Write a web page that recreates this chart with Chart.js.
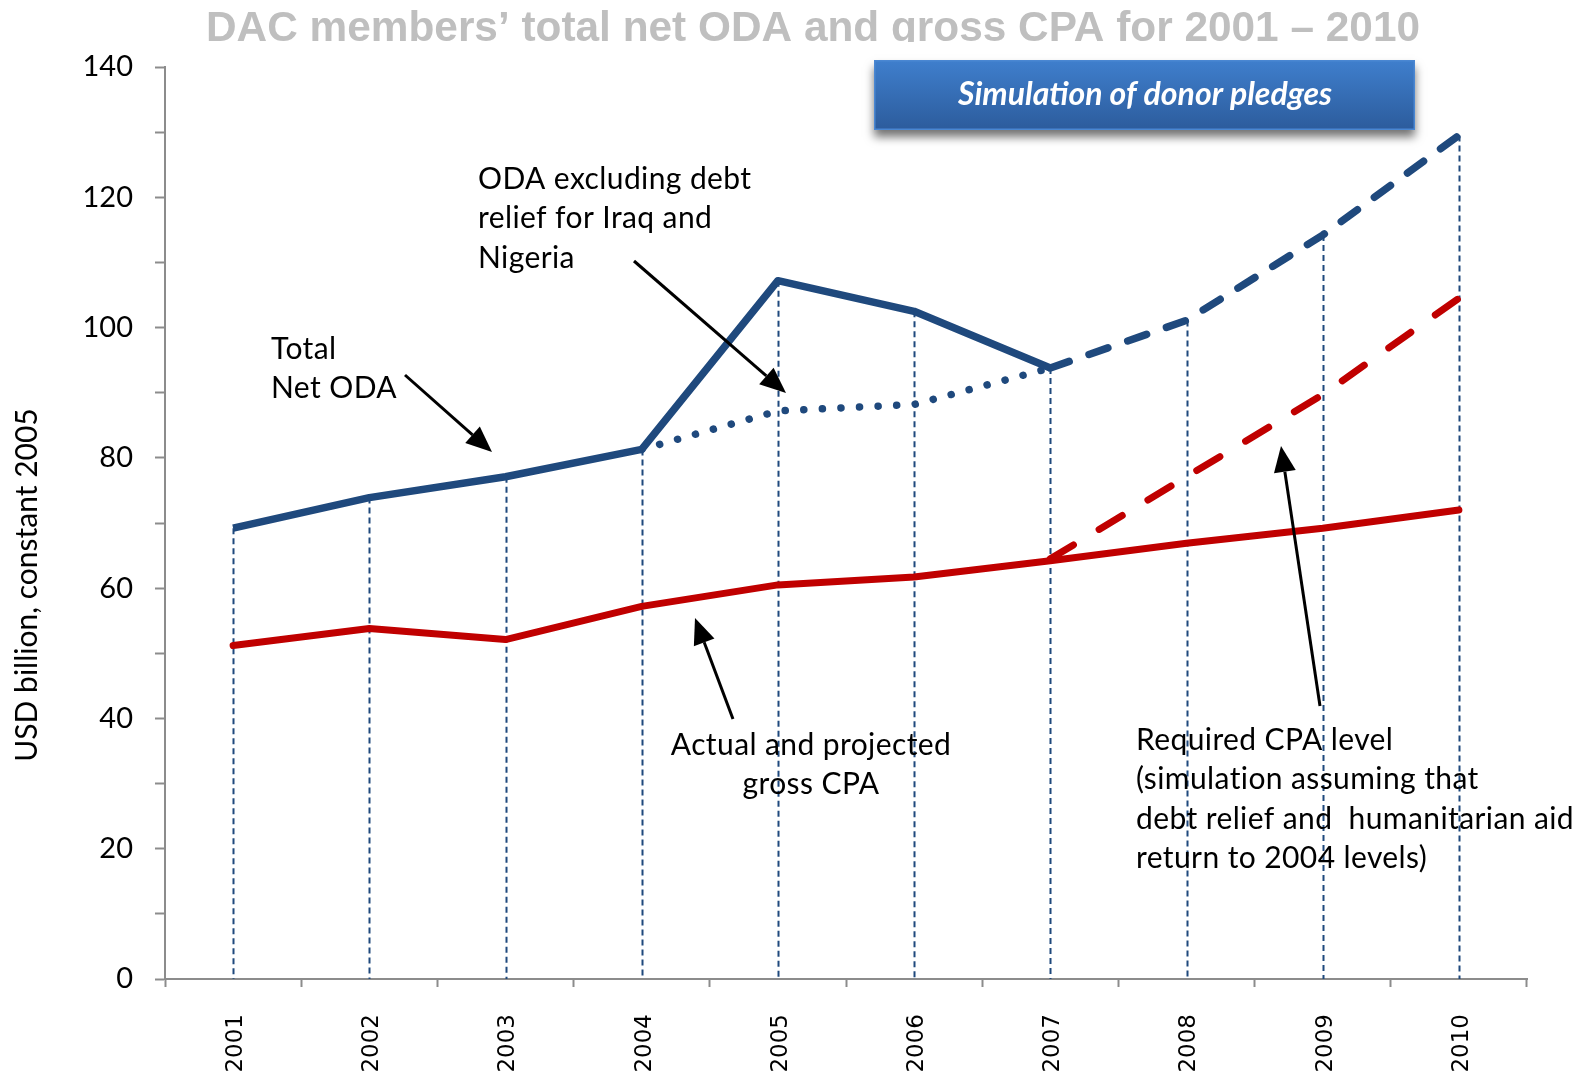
<!DOCTYPE html>
<html><head><meta charset="utf-8">
<script src="https://cdn.jsdelivr.net/npm/chart.js@4"></script>
<style>html,body{margin:0;padding:0;background:#fff}canvas{display:block}</style>
</head><body>
<canvas id="c" width="1588" height="1074"></canvas>
<script>
// ---- data ----
const years = ['2001','2002','2003','2004','2005','2006','2007','2008','2009','2010'];
const totalNetODA       = [69.2, 73.9, 77.1, 81.3, 107.2, 102.5, 93.8, null, null, null];
const odaSimulation     = [null, null, null, null, null, null, 93.8, 101.1, 114.2, 129.5];
const odaExclDebtRelief = [null, null, null, 81.3, 87.2, 88.2, 93.8, null, null, null];
const grossCPA          = [51.2, 53.8, 52.1, 57.2, 60.5, 61.7, 64.2, 66.9, 69.2, 72.0];
const requiredCPA       = [null, null, null, null, null, null, 64.5, 77.1, 89.7, 104.5];
const yLabelStep = 20;
const yTitle = 'USD billion, constant 2005';

const BLUE = '#1f497d', RED = '#c00000', AXIS = '#8c8c8c';
const FONT = 'Lato, "Open Sans", sans-serif';

// ---- annotations (page positions) ----
const notes = [
  {lines:['ODA excluding debt','relief for Iraq and','Nigeria'], x:478, y:179, align:'left'},
  {lines:['Total','Net ODA'], x:271, y:349, align:'left'},
  {lines:['Actual and projected','gross CPA'], x:811, y:745, align:'center'},
  {lines:['Required CPA level','(simulation assuming that','debt relief and  humanitarian aid','return to 2004 levels)'], x:1136, y:740, align:'left'}
];
const arrows = [[634,261,786,393],[405,375,492,452],[733,719,695,618],[1320,706,1281,446]];

const dropLines = {
  id:'dropLines',
  beforeDatasetsDraw(chart){
    const {ctx, scales:{x,y}} = chart;
    ctx.save();
    ctx.strokeStyle = BLUE; ctx.lineWidth = 2; ctx.setLineDash([6,4]);
    for (let i=0;i<years.length;i++){
      const v = totalNetODA[i] != null ? totalNetODA[i] : odaSimulation[i];
      if (v == null) continue;
      const px = Math.round(x.getPixelForValue(i))+0.5;
      ctx.beginPath(); ctx.moveTo(px, y.getPixelForValue(v)); ctx.lineTo(px, y.getPixelForValue(0)); ctx.stroke();
    }
    ctx.restore();
  }
};

const decorations = {
  id:'decorations',
  afterDraw(chart){
    const ctx = chart.ctx;
    // title (clipped like the reference)
    ctx.save();
    ctx.beginPath(); ctx.rect(0,0,1588,42); ctx.clip();
    const title = 'DAC members\u2019 total net ODA and gross CPA for 2001 \u2013 2010';
    ctx.font = 'bold 38px "Liberation Sans", Arial, sans-serif';
    const w = ctx.measureText(title).width;
    const sx = 1214 / w;
    ctx.translate(813, 40.5); ctx.scale(sx, 1.1);
    ctx.fillStyle = '#bfbfbf'; ctx.textAlign = 'center'; ctx.textBaseline = 'alphabetic';
    ctx.fillText(title, 0, 0);
    ctx.restore();

    // y-axis title
    ctx.save();
    ctx.translate(27, 585); ctx.rotate(-Math.PI/2);
    ctx.fillStyle='#000'; ctx.font='30px '+FONT; ctx.textAlign='center'; ctx.textBaseline='middle';
    ctx.fillText(yTitle, 0, 0);
    ctx.restore();

    // blue box
    ctx.save();
    const bx=874, by=60, bw=541, bh=70;
    ctx.shadowColor='rgba(0,0,0,0.55)'; ctx.shadowBlur=9; ctx.shadowOffsetY=7;
    const g = ctx.createLinearGradient(0,by,0,by+bh);
    g.addColorStop(0,'#3f7fcd'); g.addColorStop(1,'#2c5c9c');
    ctx.fillStyle=g; ctx.fillRect(bx,by,bw,bh);
    ctx.shadowColor='transparent';
    ctx.strokeStyle='#4a87d2'; ctx.lineWidth=1.5; ctx.strokeRect(bx+0.75,by+0.75,bw-1.5,bh-1.5);
    ctx.fillStyle='#ffffff'; ctx.font='italic bold 32px '+FONT;
    ctx.textAlign='center'; ctx.textBaseline='middle';
    ctx.fillText('Simulation of donor pledges', 1145, 95);
    ctx.restore();

    // notes
    ctx.save();
    ctx.fillStyle='#000'; ctx.font='30px '+FONT; ctx.textBaseline='middle';
    try { ctx.letterSpacing = '0.4px'; } catch(e) {}
    notes.forEach(n=>{
      ctx.textAlign=n.align;
      n.lines.forEach((t,k)=>ctx.fillText(t, n.x, n.y + k*39.5));
    });
    ctx.restore();
    // arrows
    ctx.save();
    ctx.strokeStyle='#000'; ctx.fillStyle='#000'; ctx.lineWidth=3;
    arrows.forEach(([x1,y1,x2,y2])=>{
      const a=Math.atan2(y2-y1,x2-x1), L=26, H=11;
      const bxp=x2-L*Math.cos(a), byp=y2-L*Math.sin(a);
      ctx.beginPath(); ctx.moveTo(x1,y1); ctx.lineTo(bxp,byp); ctx.stroke();
      ctx.beginPath(); ctx.moveTo(x2,y2);
      ctx.lineTo(bxp+H*Math.sin(a), byp-H*Math.cos(a));
      ctx.lineTo(bxp-H*Math.sin(a), byp+H*Math.cos(a));
      ctx.closePath(); ctx.fill();
    });
    ctx.restore();
  }
};

Chart.defaults.font.family = FONT;
Chart.defaults.color = '#000';

const common = {pointRadius:0, pointHoverRadius:0, tension:0, fill:false, spanGaps:false, borderJoinStyle:'round'};

new Chart(document.getElementById('c'), {
  type:'line',
  data:{
    labels: years,
    datasets:[
      {...common, label:'Total Net ODA', data:totalNetODA, borderColor:BLUE, borderWidth:7.5, order:1},
      {...common, label:'ODA simulation', data:odaSimulation, borderColor:BLUE, borderWidth:7.5, borderDash:[20,21], borderCapStyle:'round', order:2},
      {...common, label:'ODA excluding debt relief', data:odaExclDebtRelief, borderColor:BLUE, borderWidth:7.5, borderDash:[0.1,18.5], borderCapStyle:'round', order:3},
      {...common, label:'Actual and projected gross CPA', data:grossCPA, borderColor:RED, borderWidth:7, borderCapStyle:'round', order:4},
      {...common, label:'Required CPA level', data:requiredCPA, borderColor:RED, borderWidth:7, borderDash:[27,30], borderCapStyle:'round', order:5}
    ]
  },
  options:{
    responsive:false, animation:false, devicePixelRatio:1,
    layout:{padding:{top:67, right:61, left:0, bottom:0}},
    plugins:{legend:{display:false}, tooltip:{enabled:false}, title:{display:false}},
    scales:{
      x:{
        type:'category', offset:true,
        afterFit(s){ s.height = 95; },
        grid:{offset:true, drawOnChartArea:false, drawTicks:true, tickLength:8, tickColor:AXIS, tickWidth:2},
        border:{color:AXIS, width:2},
        ticks:{maxRotation:90, minRotation:90, padding:27, labelOffset:3, autoSkip:false,
               font:{family:'"DejaVu Sans", Verdana, sans-serif', size:23}, color:'#000'}
      },
      y:{
        min:0, max:140,
        afterFit(s){ s.width = 165; },
        grid:{drawOnChartArea:false, drawTicks:true, tickLength:10, tickColor:AXIS, tickWidth:2},
        border:{color:AXIS, width:2},
        ticks:{stepSize:10, padding:22, font:{size:29}, color:'#000',
               callback:v => (v % yLabelStep === 0 ? String(v) : '')},
        title:{display:false}
      }
    }
  },
  plugins:[dropLines, decorations]
});
</script>
</body></html>
